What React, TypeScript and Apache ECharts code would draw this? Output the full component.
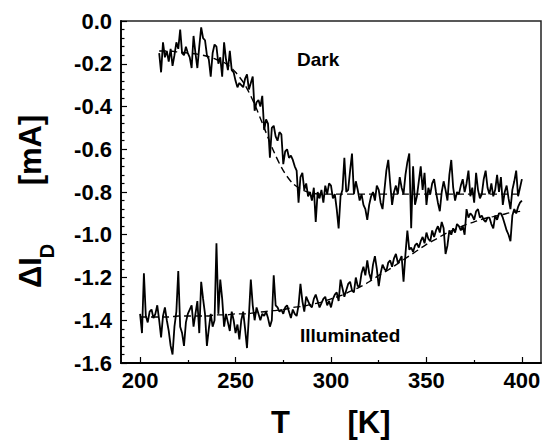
import React, { useEffect, useRef } from "react";
import * as echarts from "echarts";

// Temperature (K) axis ticks
const xMajorTicks = [200, 250, 300, 350, 400];
const xMinorTicks = [225, 275, 325, 375];

// Dark: measured ΔI_D (mA), T = 210 … 400 K, 1 K step
const darkStartT = 210;
const darkValues = [
  -0.15, -0.24, -0.10, -0.17, -0.14, -0.19, -0.13, -0.21, -0.16, -0.10,
  -0.13, -0.04, -0.15, -0.16, -0.12, -0.15, -0.17, -0.22, -0.07, -0.15,
  -0.22, -0.12, -0.03, -0.08, -0.09, -0.16, -0.18, -0.26, -0.15, -0.11,
  -0.12, -0.20, -0.17, -0.26, -0.10, -0.18, -0.23, -0.14, -0.23, -0.24,
  -0.28, -0.31, -0.29, -0.30, -0.31, -0.27, -0.25, -0.32, -0.29, -0.26,
  -0.42, -0.38, -0.37, -0.40, -0.35, -0.51, -0.46, -0.48, -0.64, -0.50,
  -0.49, -0.54, -0.56, -0.52, -0.53, -0.67, -0.61, -0.60, -0.64, -0.63,
  -0.65, -0.68, -0.70, -0.85, -0.73, -0.71, -0.79, -0.76, -0.82, -0.80,
  -0.84, -0.78, -0.94, -0.80, -0.83, -0.79, -0.85, -0.77, -0.81, -0.76,
  -0.77, -0.83, -0.81, -0.88, -0.97, -0.82, -0.79, -0.64, -0.80, -0.79,
  -0.70, -0.62, -0.81, -0.75, -0.79, -0.84, -0.81, -0.86, -0.88, -0.93,
  -0.86, -0.82, -0.80, -0.84, -0.77, -0.79, -0.85, -0.88, -0.79, -0.70,
  -0.65, -0.76, -0.86, -0.80, -0.77, -0.81, -0.73, -0.78, -0.81, -0.72,
  -0.66, -0.62, -0.97, -0.68, -0.86, -0.82, -0.75, -0.68, -0.79, -0.71,
  -0.86, -0.78, -0.81, -0.76, -0.74, -0.80, -0.85, -0.89, -0.80, -0.75,
  -0.79, -0.84, -0.72, -0.65, -0.78, -0.84, -0.80, -0.81, -0.77, -0.74,
  -0.80, -0.76, -0.70, -0.82, -0.78, -0.85, -0.71, -0.79, -0.83, -0.81,
  -0.74, -0.70, -0.78, -0.81, -0.76, -0.82, -0.79, -0.72, -0.80, -0.73,
  -0.86, -0.80, -0.77, -0.83, -0.88, -0.79, -0.75, -0.70, -0.82, -0.78,
  -0.74,
];

// Illuminated: measured ΔI_D (mA), T = 200 … 400 K, 1 K step
const illumStartT = 200;
const illumValues = [
  -1.37, -1.46, -1.18, -1.38, -1.41, -1.36, -1.35, -1.39, -1.37, -1.33,
  -1.40, -1.48, -1.38, -1.34, -1.40, -1.45, -1.52, -1.56, -1.43, -1.36,
  -1.17, -1.43, -1.46, -1.52, -1.41, -1.37, -1.35, -1.33, -1.43, -1.37,
  -1.31, -1.46, -1.22, -1.30, -1.37, -1.52, -1.44, -1.37, -1.43, -1.40,
  -1.04, -1.37, -1.21, -1.30, -1.43, -1.37, -1.41, -1.45, -1.36, -1.40,
  -1.46, -1.42, -1.49, -1.40, -1.36, -1.44, -1.53, -1.38, -1.21, -1.33,
  -1.40, -1.34, -1.37, -1.40, -1.37, -1.38, -1.36, -1.39, -1.43, -1.40,
  -1.19, -1.33, -1.34, -1.36, -1.35, -1.37, -1.34, -1.33, -1.36, -1.39,
  -1.35, -1.37, -1.38, -1.33, -1.23, -1.31, -1.36, -1.29, -1.31, -1.33,
  -1.34, -1.30, -1.28, -1.31, -1.34, -1.32, -1.30, -1.29, -1.33, -1.31,
  -1.34, -1.30, -1.28, -1.27, -1.31, -1.21, -1.25, -1.29, -1.26, -1.23,
  -1.22, -1.26, -1.27, -1.20, -1.24, -1.24, -1.18, -1.15, -1.19, -1.12,
  -1.18, -1.21, -1.14, -1.10, -1.16, -1.24, -1.18, -1.14, -1.16, -1.17,
  -1.13, -1.12, -1.15, -1.11, -1.09, -1.13, -1.12, -1.10, -1.22, -1.09,
  -0.98, -1.07, -1.06, -1.08, -1.05, -1.04, -1.06, -1.03, -1.01, -1.04,
  -0.99, -1.02, -1.03, -0.98, -1.01, -0.98, -0.96, -0.99, -0.94, -0.97,
  -1.09, -1.05, -0.98, -1.00, -0.97, -0.99, -0.95, -0.96, -0.98, -0.96,
  -1.00, -0.88, -0.92, -0.90, -0.91, -0.93, -0.89, -0.88, -0.92, -0.91,
  -0.93, -0.94, -0.92, -0.92, -0.95, -0.97, -0.91, -0.93, -0.90, -0.90,
  -0.92, -0.95, -0.98, -1.00, -1.03, -0.91, -0.88, -0.90, -0.87, -0.85,
  -0.84,
];

// Fitted curves (dashed), 5 K step
const fitStep = 5;
const darkFitStartT = 210;
const darkFitValues = [
  -0.14, -0.14, -0.145, -0.15, -0.155, -0.165, -0.18, -0.2, -0.24, -0.3,
  -0.39, -0.5, -0.61, -0.7, -0.76, -0.79, -0.805, -0.81, -0.81, -0.81,
  -0.81, -0.81, -0.81, -0.81, -0.81, -0.81, -0.81, -0.81, -0.81, -0.81,
  -0.81, -0.81, -0.81, -0.81, -0.81, -0.81, -0.81, -0.81, -0.81,
];
const illumFitStartT = 200;
const illumFitValues = [
  -1.385, -1.385, -1.385, -1.385, -1.38, -1.38, -1.38, -1.38, -1.375, -1.375,
  -1.37, -1.37, -1.365, -1.36, -1.355, -1.35, -1.34, -1.335, -1.325, -1.315,
  -1.3, -1.285, -1.265, -1.245, -1.22, -1.19, -1.165, -1.135, -1.105, -1.075,
  -1.045, -1.02, -0.995, -0.975, -0.955, -0.94, -0.925, -0.915, -0.905, -0.895,
  -0.89,
];

const FONT = "'Liberation Sans', Arial, sans-serif";

function toPairs(start: number, step: number, vals: number[]) {
  return vals.map((v, i) => [start + i * step, v]);
}

export default function App() {
  const ref = useRef<HTMLDivElement>(null);
  useEffect(() => {
    if (!ref.current) return;
    document.body.style.margin = "0";
    const chart = echarts.init(ref.current, undefined, { renderer: "svg" });
    const labelStyle = {
      color: "#000",
      fontFamily: FONT,
      fontWeight: "bold" as const,
      fontSize: 22,
    };
    const titleStyle = {
      fill: "#000",
      fontFamily: FONT,
      fontWeight: "bold" as const,
      fontSize: 31,
      align: "center" as const,
      verticalAlign: "middle" as const,
    };
    chart.setOption({
      animation: false,
      backgroundColor: "#fff",
      grid: {
        left: 121,
        right: 9,
        top: 21,
        bottom: 78,
        show: true,
        borderColor: "#222",
        borderWidth: 1.5,
        backgroundColor: "transparent",
      },
      xAxis: [
        {
          type: "value",
          min: 190,
          max: 410,
          axisLine: { show: true, onZero: false, lineStyle: { color: "#000", width: 1.8 } },
          axisTick: {
            show: true,
            inside: true,
            length: 6,
            customValues: xMajorTicks,
            lineStyle: { color: "#000", width: 1.2 },
          },
          axisLabel: { ...labelStyle, margin: 6, customValues: xMajorTicks },
          splitLine: { show: false },
        },
        {
          type: "value",
          min: 190,
          max: 410,
          position: "bottom",
          axisLine: { show: false, onZero: false },
          axisTick: {
            show: true,
            inside: true,
            length: 3,
            customValues: xMinorTicks,
            lineStyle: { color: "#000", width: 1.2 },
          },
          axisLabel: { show: false, customValues: xMinorTicks },
          splitLine: { show: false },
        },
      ],
      yAxis: {
        type: "value",
        min: -1.6,
        max: 0,
        interval: 0.2,
        axisLine: { show: true, onZero: false, lineStyle: { color: "#000", width: 1.8 } },
        axisTick: { show: true, inside: true, length: 6, lineStyle: { color: "#000", width: 1.2 } },
        minorTick: { show: true, splitNumber: 5, length: 3.5, lineStyle: { color: "#000", width: 1.2 } },
        axisLabel: {
          ...labelStyle,
          margin: 9,
          formatter: (v: number) => (Math.abs(v) < 1e-9 ? "0.0" : v.toFixed(1)),
        },
        splitLine: { show: false },
        minorSplitLine: { show: false },
      },
      series: [
        {
          name: "Dark",
          type: "line",
          xAxisIndex: 0,
          data: toPairs(darkStartT, 1, darkValues),
          showSymbol: false,
          lineStyle: { color: "#000", width: 1.8 },
        },
        {
          name: "Illuminated",
          type: "line",
          xAxisIndex: 0,
          data: toPairs(illumStartT, 1, illumValues),
          showSymbol: false,
          lineStyle: { color: "#000", width: 1.8 },
        },
        {
          name: "Dark fit",
          type: "line",
          xAxisIndex: 0,
          data: toPairs(darkFitStartT, fitStep, darkFitValues),
          showSymbol: false,
          smooth: 0.3,
          lineStyle: { color: "#000", width: 1.4, type: [7, 4] },
        },
        {
          name: "Illuminated fit",
          type: "line",
          xAxisIndex: 0,
          data: toPairs(illumFitStartT, fitStep, illumFitValues),
          showSymbol: false,
          smooth: 0.3,
          lineStyle: { color: "#000", width: 1.4, type: [7, 4] },
        },
      ],
      graphic: [
        {
          type: "text",
          left: 297,
          top: 50,
          style: { text: "Dark", fill: "#000", fontFamily: FONT, fontWeight: "bold", fontSize: 19 },
        },
        {
          type: "text",
          left: 300,
          top: 326,
          style: { text: "Illuminated", fill: "#000", fontFamily: FONT, fontWeight: "bold", fontSize: 19 },
        },
        { type: "text", x: 280.5, y: 422, style: { ...titleStyle, text: "T" } },
        { type: "text", x: 369, y: 422, style: { ...titleStyle, text: "[K]" } },
        {
          type: "text",
          x: 30,
          y: 150,
          rotation: Math.PI / 2,
          style: { ...titleStyle, text: "[mA]" },
        },
        {
          type: "text",
          x: 30,
          y: 272.5,
          rotation: Math.PI / 2,
          style: { ...titleStyle, text: "ΔI" },
        },
        {
          type: "text",
          x: 47,
          y: 251,
          rotation: Math.PI / 2,
          style: { ...titleStyle, fontSize: 20, text: "D" },
        },
      ],
    });
    return () => chart.dispose();
  }, []);
  return <div ref={ref} style={{ width: 550, height: 441 }} />;
}
